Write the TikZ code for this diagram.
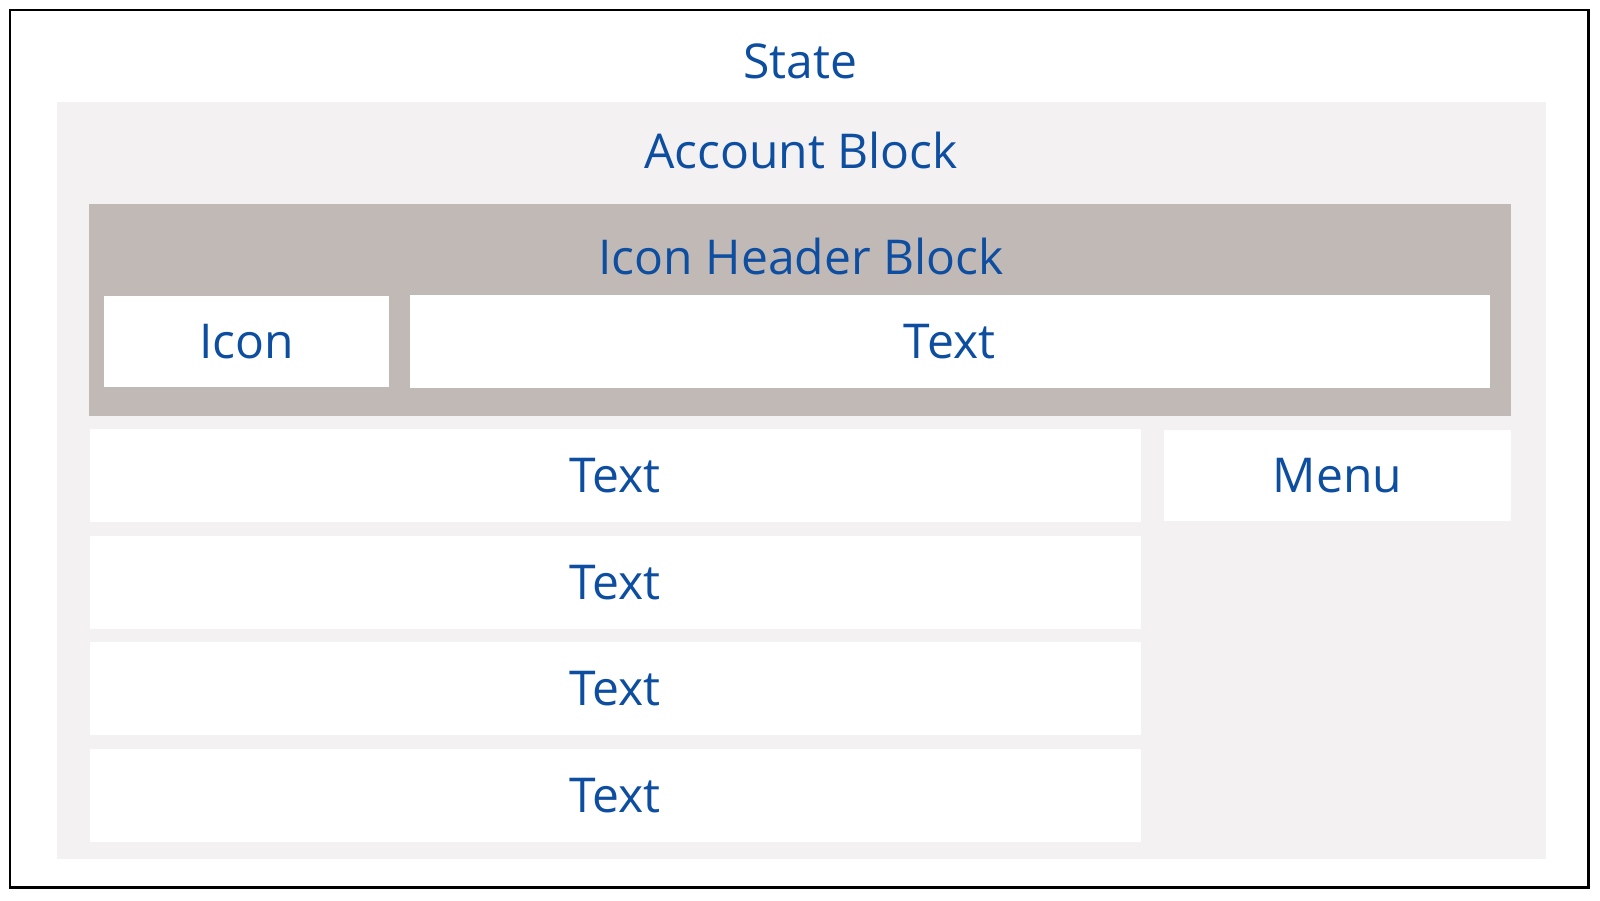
\documentclass[tikz,border=0pt]{standalone}
\usepackage{fontspec}
\setmainfont{Open Sans}
\definecolor{blocktextblue}{RGB}{14,78,160}
\definecolor{accountgray}{RGB}{243,241,242}
\definecolor{headergray}{RGB}{193,185,182}
\begin{document}
\begin{tikzpicture}[x=0.5pt,y=-0.5pt,
		blocktext/.style={anchor=base,text=blocktextblue,inner sep=0pt,font=\fontsize{24}{28}\selectfont}]
	\useasboundingbox (0,0) rectangle (1600,900);
	\draw[line width=1.2pt] (10,10) rectangle (1588.5,887.5);
	\node[blocktext] (state) at (800,78) {State};
	% account block
	\fill[accountgray] (57,102) rectangle (1546,859);
	\node[blocktext] (account) at (801,168) {Account Block};
	% icon header block
	\fill[headergray] (89,204) rectangle (1511,415.5);
	\node[blocktext] (header) at (801,274) {Icon Header Block};
	\fill[white] (104,295.5) rectangle (389,387);
	\node[blocktext] (icon) at (246.5,358.5) {Icon};
	\fill[white] (410,294.5) rectangle (1489.5,388);
	\node[blocktext] (headertext) at (949.5,358.5) {Text};
	% rows and menu
	\foreach \y [count=\i] in {429,535.7,642,748.7}{
		\fill[white] (89.5,\y) rectangle (1141,{\y+93});
		\node[blocktext] (row\i) at (615,{\y+63.8}) {Text};
	}
	\fill[white] (1164,430) rectangle (1511,521);
	\node[blocktext] (menu) at (1337.5,492.7) {Menu};
\end{tikzpicture}
\end{document}
